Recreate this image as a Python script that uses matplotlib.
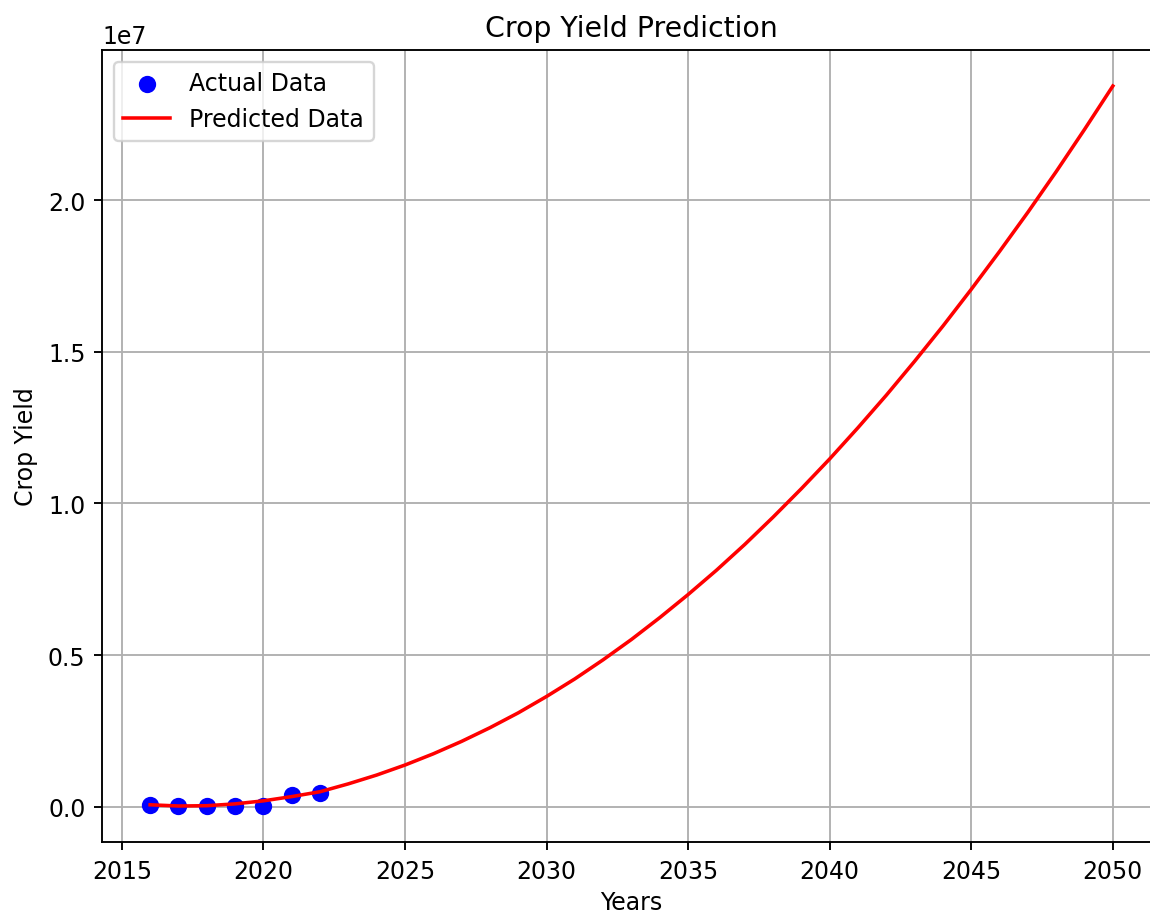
import matplotlib
matplotlib.use("Agg")
import matplotlib.pyplot as plt

# actual observations
years_actual = [2016, 2017, 2018, 2019, 2020, 2021, 2022]
yield_actual = [50000, 45000, 40000, 40000, 30000, 380000, 450000]

# predicted curve (units of 1e6)
years_pred = list(range(2016, 2051))
yield_pred_m = [0.07, 0.03, 0.04, 0.10, 0.20, 0.34, 0.50, 0.76, 1.05, 1.38,
                1.75, 2.16, 2.61, 3.10, 3.64, 4.22, 4.85, 5.52, 6.24, 7.00,
                7.80, 8.65, 9.55, 10.49, 11.47, 12.50, 13.57, 14.69, 15.85, 17.06,
                18.31, 19.60, 20.94, 22.33, 23.76]
yield_pred = [v * 1e6 for v in yield_pred_m]

DPI = 170
fig = plt.figure(figsize=(1150 / DPI, 913 / DPI), dpi=DPI)
# the right spine sits just past the image edge in the reference
ax = fig.add_axes([102 / 1150, 1 - 843 / 913, (1161 - 102) / 1150, (843 - 51) / 913])

ax.scatter(years_actual, yield_actual, color="blue", s=40, label="Actual Data", zorder=2)
ax.plot(years_pred, yield_pred, color="red", label="Predicted Data", zorder=3)

ax.set_title("Crop Yield Prediction")
ax.set_xlabel("Years", labelpad=3.2)
ax.set_ylabel("Crop Yield")
ax.grid(True)
ax.legend(loc="upper left")

plt.savefig("out.png", dpi=DPI)
plt.close()
